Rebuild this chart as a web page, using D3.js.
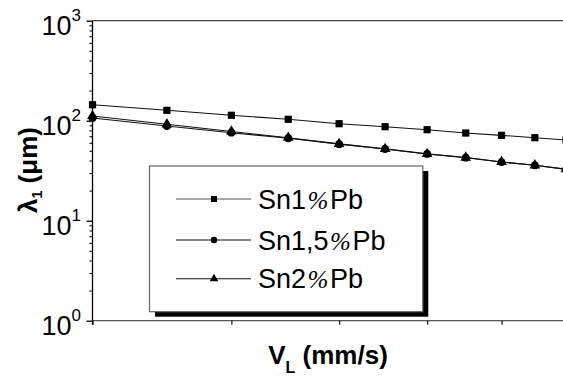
<!DOCTYPE html>
<html><head><meta charset="utf-8">
<script src="https://cdn.jsdelivr.net/npm/d3@7"></script>
<style>body{margin:0;background:#fff}svg{display:block}</style>
</head><body>
<svg id="c" width="563" height="377"></svg>
<script>
const velocities = [3, 3.5, 4, 4.5, 5, 5.5, 6, 6.5, 7, 7.5, 8];
const sn1 = [144.5, 127, 113.3, 103.3, 93.3, 87.1, 81.3, 75.3, 71.4, 67.6, 64.1];
const sn15 = [106.4, 88.5, 75.9, 66.8, 58.3, 52.1, 46.5, 42.7, 38.6, 35.8, 32.7];
const sn2 = [111.5, 92, 78, 67.5, 58.7, 52.3, 46.6, 42.8, 38.7, 35.8, 32.7];
const seriesNames = ["Sn1", "Sn1,5", "Sn2"];
const xTicks = [3, 4, 5, 6, 7, 8];
const yMajor = [1, 10, 100, 1000];
const yExp = ["0", "1", "2", "3"];

const svg = d3.select("#c");
const font = "'Liberation Sans', Arial, sans-serif";
const x = d3.scaleLog().domain([3, 8]).range([92.5, 566]);
const y = d3.scaleLog().domain([1, 1000]).range([320.7, 20.7]);

// top frame line
svg.append("line").attr("x1", x(3)).attr("x2", 563).attr("y1", y(1000)).attr("y2", y(1000))
  .attr("stroke", "#444").attr("stroke-width", 1.2);

// x axis
const xAxis = d3.axisBottom(x).tickValues(xTicks).tickSize(4).tickFormat("");
const gx = svg.append("g").attr("transform", `translate(0,${y(1)})`).call(xAxis);
gx.select(".domain").attr("stroke", "#555").attr("stroke-width", 1.3).attr("d", `M${x(3)},0H563`);
gx.selectAll(".tick line").attr("stroke", "#222").attr("stroke-width", 1.3);

// y axis major + minor
const minor = [];
for (let d = 1; d < 1000; d *= 10) for (let k = 2; k <= 9; k++) minor.push(d * k);
const gyMinor = svg.append("g").attr("transform", `translate(${x(3)},0)`)
  .call(d3.axisLeft(y).tickValues(minor).tickSize(3).tickFormat(""));
gyMinor.select(".domain").remove();
gyMinor.selectAll(".tick line").attr("stroke", "#111").attr("stroke-width", 1.1);
const gy = svg.append("g").attr("transform", `translate(${x(3)},0)`)
  .call(d3.axisLeft(y).tickValues(yMajor).tickSize(6).tickFormat(""));
gy.select(".domain").attr("stroke", "#000").attr("stroke-width", 1.3).attr("d", `M0,${y(1000)}V${y(1) + 4}`);
gy.selectAll(".tick line").attr("stroke", "#000").attr("stroke-width", 1.3);

// y tick labels
yMajor.forEach((v, i) => {
  const t = svg.append("text").attr("x", 81).attr("y", y(v) + 14)
    .attr("text-anchor", "end").attr("font-family", font).attr("font-size", 27).attr("fill", "#000");
  t.append("tspan").text("10");
  t.append("tspan").attr("dy", -14).attr("font-size", 17).text(yExp[i]);
});

// clip
svg.append("clipPath").attr("id", "clip").append("rect")
  .attr("x", 80).attr("y", 0).attr("width", 483).attr("height", 330);
const plot = svg.append("g").attr("clip-path", "url(#clip)");

const line = d3.line().x((d, i) => x(velocities[i])).y(d => y(d));
const data = [sn1, sn15, sn2];
const sym = [d3.symbolSquare, d3.symbolCircle, d3.symbolTriangle];
const symSize = [52, 48, 50];
data.forEach((s) => {
  plot.append("path").attr("d", line(s)).attr("fill", "none").attr("stroke", "#111").attr("stroke-width", 1.1);
});
data.forEach((s, j) => {
  plot.selectAll(null).data(s).enter().append("path")
    .attr("transform", (d, i) => `translate(${x(velocities[i])},${y(d)})`)
    .attr("d", d3.symbol().type(sym[j]).size(symSize[j])).attr("fill", "#000");
});

// legend
const lg = svg.append("g");
lg.append("rect").attr("x", 155).attr("y", 171).attr("width", 273.3).attr("height", 145.7).attr("fill", "#000");
lg.append("rect").attr("x", 149.5).attr("y", 166).attr("width", 273.3).attr("height", 145.7)
  .attr("fill", "#fff").attr("stroke", "#666").attr("stroke-width", 1.2);
const rowsY = [199, 240, 278.7];
seriesNames.forEach((n, j) => {
  lg.append("line").attr("x1", 176).attr("x2", 251).attr("y1", rowsY[j]).attr("y2", rowsY[j])
    .attr("stroke", j === 0 ? "#555" : "#111").attr("stroke-width", 1.1);
  lg.append("path").attr("transform", `translate(214,${rowsY[j]})`)
    .attr("d", d3.symbol().type(sym[j]).size(j === 0 ? 36 : 32)).attr("fill", "#000");
  const t = lg.append("text").attr("x", 258).attr("y", rowsY[j] + 9.5)
    .attr("font-family", font).attr("font-size", 27).attr("fill", "#000");
  t.append("tspan").text(n);
  t.append("tspan").attr("font-family", "'Liberation Serif', serif").attr("font-style", "italic")
    .attr("font-size", 25).attr("dx", 1.5).text("%");
  t.append("tspan").attr("dx", 1.5).text("Pb");
});

// axis titles
const xl = svg.append("text").attr("x", 328).attr("y", 364).attr("text-anchor", "middle")
  .attr("font-family", font).attr("font-weight", "bold").attr("font-size", 26).attr("fill", "#000");
xl.append("tspan").text("V");
xl.append("tspan").attr("dy", 9).attr("font-size", 16).text("L");
xl.append("tspan").attr("dy", -9).text(" (mm/s)");

const yl = svg.append("text").attr("transform", "translate(37,170) rotate(-90)").attr("text-anchor", "middle")
  .attr("font-family", font).attr("font-weight", "bold").attr("font-size", 26).attr("fill", "#000");
yl.append("tspan").text("λ");
yl.append("tspan").attr("dy", 5).attr("font-size", 14).text("1");
yl.append("tspan").attr("dy", -5).text(" (μm)");
</script>
</body></html>
